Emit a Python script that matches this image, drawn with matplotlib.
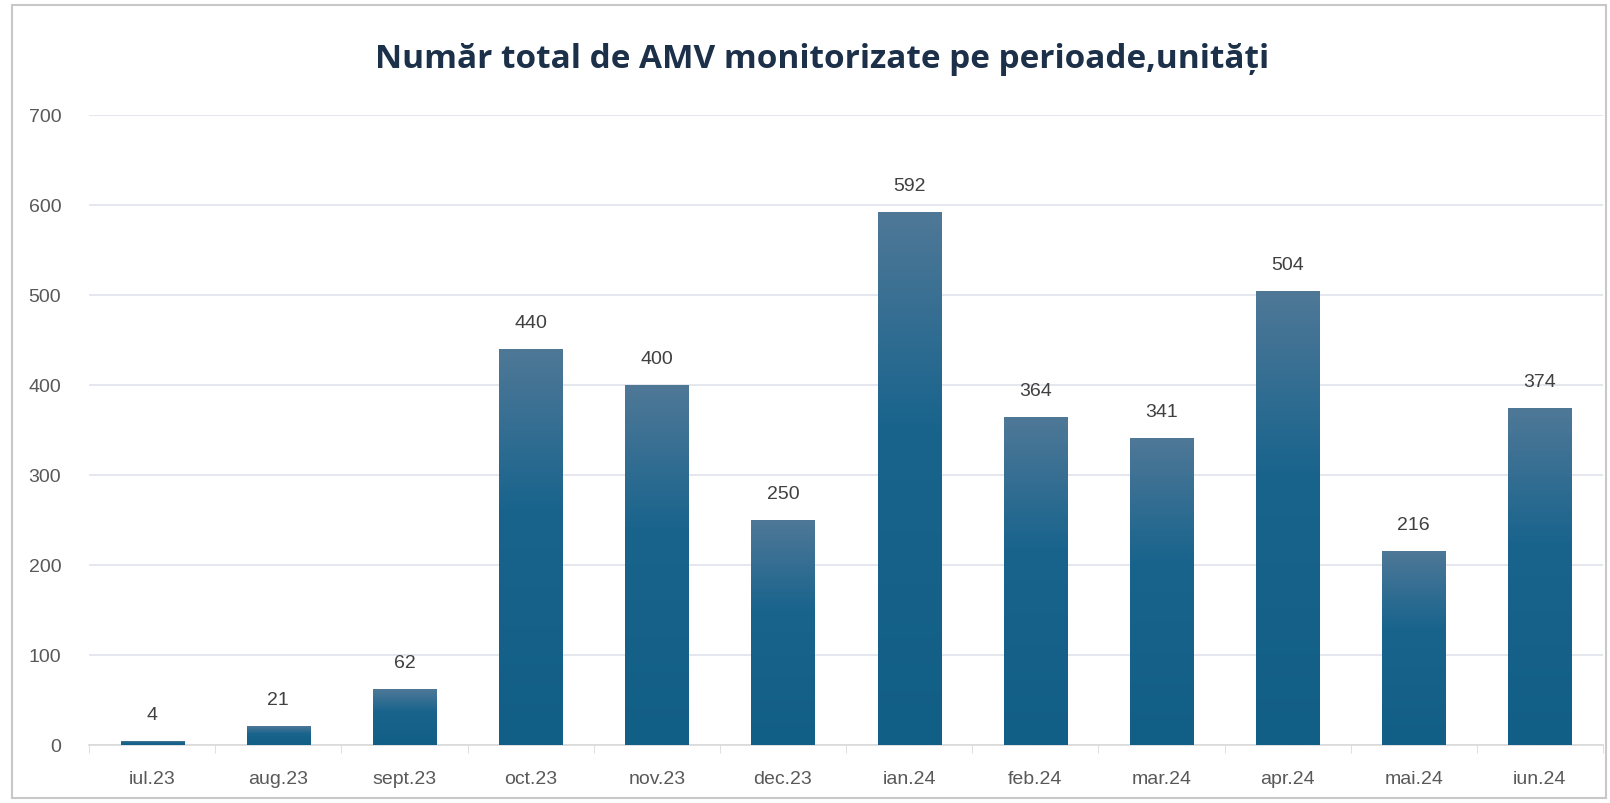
import matplotlib
matplotlib.use("Agg")
import matplotlib.pyplot as plt
import numpy as np
from matplotlib.colors import LinearSegmentedColormap
from matplotlib.patches import Rectangle

categories = ["iul.23", "aug.23", "sept.23", "oct.23", "nov.23", "dec.23",
              "ian.24", "feb.24", "mar.24", "apr.24", "mai.24", "iun.24"]
values = [4, 21, 62, 440, 400, 250, 592, 364, 341, 504, 216, 374]
yticks = [0, 100, 200, 300, 400, 500, 600, 700]
title = "Număr total de AMV monitorizate pe perioade,unități"

W, H = 1610, 804
fig = plt.figure(figsize=(W / 100, H / 100), dpi=100)
fig.patch.set_facecolor("white")

# outer frame
fig.patches.append(Rectangle((12 / W, 5 / H), (W - 16) / W, (H - 11) / H,
                             transform=fig.transFigure, fill=False,
                             edgecolor="#c8c8c8", linewidth=1.5))

ax = fig.add_axes([89 / W, 58 / H, (1603 - 89) / W, (746 - 116) / H])
x = np.arange(len(categories))
bars = ax.bar(x, values, width=0.5, color="#176189", zorder=2)

cmap = LinearSegmentedColormap.from_list(
    "g", [(0.0, "#115e87"), (0.6, "#19648d"), (1.0, "#4f7897")])
grad = np.linspace(0, 1, 256).reshape(-1, 1)
for b in bars:
    x0, y0, w, h = b.get_x(), b.get_y(), b.get_width(), b.get_height()
    im = ax.imshow(grad, extent=[x0, x0 + w, y0, y0 + h], origin="lower",
                   cmap=cmap, aspect="auto", zorder=3)
    im.set_clip_path(b)

for xi, v in zip(x, values):
    ax.annotate(str(v), (xi, v), xytext=(0, 13), textcoords="offset points",
                ha="center", va="bottom", fontsize=14, color="#404040",
                family="Liberation Sans", zorder=4)

ax.set_xlim(-0.5, len(categories) - 0.5)
ax.set_ylim(0, 700)
ax.set_yticks(yticks)
ax.set_xticks(x)
ax.set_xticklabels(categories)
ax.set_xticks(np.arange(-0.5, len(categories), 1), minor=True)
ax.tick_params(axis="x", which="major", length=0, pad=18, labelsize=14,
               labelcolor="#595959")
ax.tick_params(axis="x", which="minor", length=6, color="#d9d9d9")
ax.tick_params(axis="y", length=0, pad=20, labelsize=14, labelcolor="#595959")
for lab in ax.get_xticklabels() + ax.get_yticklabels():
    lab.set_family("Liberation Sans")

ax.grid(axis="y", color="#dfe3ea", linewidth=1.2, zorder=0)
ax.set_axisbelow(True)
for s in ["top", "right", "left"]:
    ax.spines[s].set_visible(False)
ax.spines["bottom"].set_color("#d9d9d9")
ax.spines["bottom"].set_linewidth(1.2)

fig.text(822 / W, 1 - 60 / H, title, ha="center", va="center",
         fontsize=24, fontweight="bold", color="#1d3049", family="Open Sans")

fig.savefig("out.png", dpi=100)
